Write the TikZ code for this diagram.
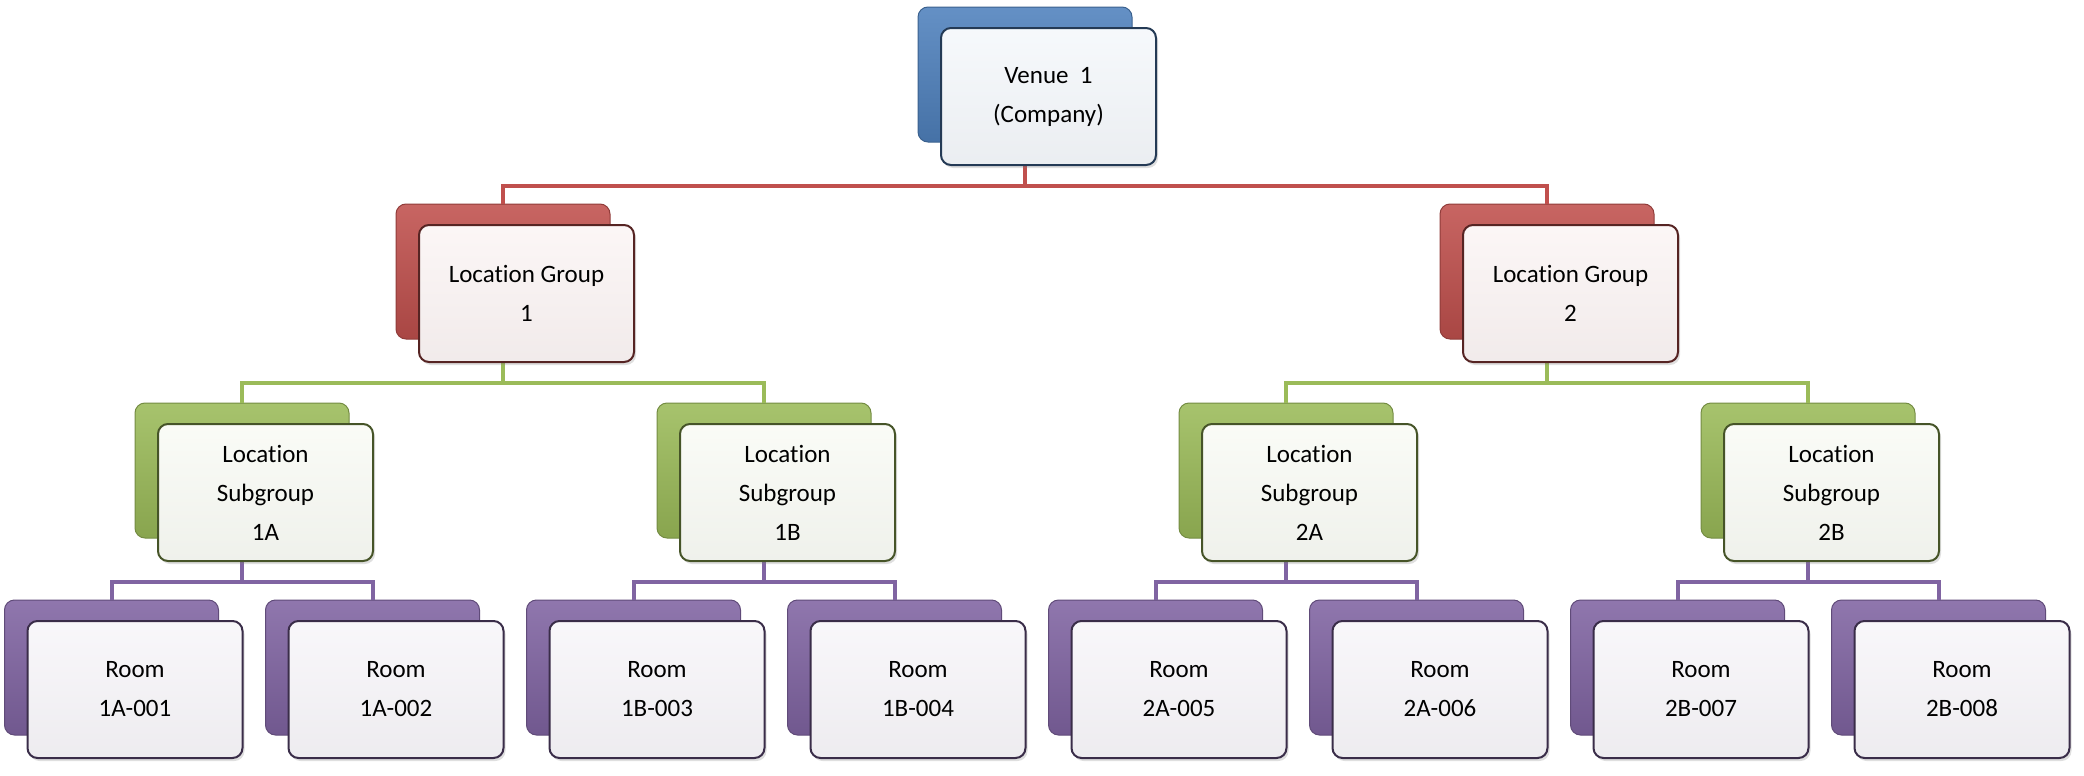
\documentclass[tikz,border=0pt]{standalone}
\usepackage{fontspec}
\setmainfont{Carlito}[Ligatures=NoCommon]
\usetikzlibrary{shadows}

\definecolor{venueblue}{HTML}{4F81BD}
\definecolor{groupred}{HTML}{C0504D}
\definecolor{subgreen}{HTML}{9BBB59}
\definecolor{roompurple}{HTML}{8064A2}

\tikzset{
  back/.style={rectangle, rounded corners=5pt, inner sep=0pt,
    minimum width=107pt, minimum height=67.5pt,
    draw=#1!75!black, line width=0.5pt,
    top color=#1!88!white, middle color=#1, bottom color=#1!88!black},
  front/.style={rectangle, rounded corners=5pt, inner sep=0pt,
    minimum width=107.5pt, minimum height=68.5pt,
    draw=#1!45!black, line width=1pt, align=center,
    top color=#1!5!white, bottom color=#1!6!white!96!black,
    drop shadow={shadow xshift=1pt, shadow yshift=-1.5pt, opacity=0.25},
    font=\fontsize{12.5}{19.5}\selectfont},
  link/.style={draw=#1, line width=2pt}
}

\begin{document}
\begin{tikzpicture}[x=0.5pt, y=-0.5pt]
\useasboundingbox (0,0) rectangle (2084,776);

% back plates
\node[back=venueblue] (venueb) at (1025,74.5) {};
\node[back=groupred] (grp1b) at (503,271.5) {};
\node[back=groupred] (grp2b) at (1547,271.5) {};
\node[back=subgreen] (sub1Ab) at (242,470.5) {};
\node[back=subgreen] (sub1Bb) at (764,470.5) {};
\node[back=subgreen] (sub2Ab) at (1286,470.5) {};
\node[back=subgreen] (sub2Bb) at (1808,470.5) {};
\node[back=roompurple] (room1b) at (111.5,667.5) {};
\node[back=roompurple] (room2b) at (372.5,667.5) {};
\node[back=roompurple] (room3b) at (633.5,667.5) {};
\node[back=roompurple] (room4b) at (894.5,667.5) {};
\node[back=roompurple] (room5b) at (1155.5,667.5) {};
\node[back=roompurple] (room6b) at (1416.5,667.5) {};
\node[back=roompurple] (room7b) at (1677.5,667.5) {};
\node[back=roompurple] (room8b) at (1938.5,667.5) {};

% connectors
\draw[link=groupred] (venueb.south) -- ++(0,-21.5pt) -| (grp1b.north);
\draw[link=groupred] (venueb.south) -- ++(0,-21.5pt) -| (grp2b.north);
\draw[link=subgreen] (grp1b.south) -- ++(0,-21.5pt) -| (sub1Ab.north);
\draw[link=subgreen] (grp1b.south) -- ++(0,-21.5pt) -| (sub1Bb.north);
\draw[link=subgreen] (grp2b.south) -- ++(0,-21.5pt) -| (sub2Ab.north);
\draw[link=subgreen] (grp2b.south) -- ++(0,-21.5pt) -| (sub2Bb.north);
\draw[link=roompurple] (sub1Ab.south) -- ++(0,-21.5pt) -| (room1b.north);
\draw[link=roompurple] (sub1Ab.south) -- ++(0,-21.5pt) -| (room2b.north);
\draw[link=roompurple] (sub1Bb.south) -- ++(0,-21.5pt) -| (room3b.north);
\draw[link=roompurple] (sub1Bb.south) -- ++(0,-21.5pt) -| (room4b.north);
\draw[link=roompurple] (sub2Ab.south) -- ++(0,-21.5pt) -| (room5b.north);
\draw[link=roompurple] (sub2Ab.south) -- ++(0,-21.5pt) -| (room6b.north);
\draw[link=roompurple] (sub2Bb.south) -- ++(0,-21.5pt) -| (room7b.north);
\draw[link=roompurple] (sub2Bb.south) -- ++(0,-21.5pt) -| (room8b.north);

% front cards
\node[front=venueblue] (venue) at ([shift={(11.75pt,-11pt)}]venueb) {Venue\ \ 1\\(Company)};
\node[front=groupred] (grp1) at ([shift={(11.75pt,-11pt)}]grp1b) {Location Group\\1};
\node[front=groupred] (grp2) at ([shift={(11.75pt,-11pt)}]grp2b) {Location Group\\2};
\node[front=subgreen] (sub1A) at ([shift={(11.75pt,-11pt)}]sub1Ab) {Location\\Subgroup\\1A};
\node[front=subgreen] (sub1B) at ([shift={(11.75pt,-11pt)}]sub1Bb) {Location\\Subgroup\\1B};
\node[front=subgreen] (sub2A) at ([shift={(11.75pt,-11pt)}]sub2Ab) {Location\\Subgroup\\2A};
\node[front=subgreen] (sub2B) at ([shift={(11.75pt,-11pt)}]sub2Bb) {Location\\Subgroup\\2B};
\node[front=roompurple] (room1) at ([shift={(11.75pt,-11pt)}]room1b) {Room\\1A-001};
\node[front=roompurple] (room2) at ([shift={(11.75pt,-11pt)}]room2b) {Room\\1A-002};
\node[front=roompurple] (room3) at ([shift={(11.75pt,-11pt)}]room3b) {Room\\1B-003};
\node[front=roompurple] (room4) at ([shift={(11.75pt,-11pt)}]room4b) {Room\\1B-004};
\node[front=roompurple] (room5) at ([shift={(11.75pt,-11pt)}]room5b) {Room\\2A-005};
\node[front=roompurple] (room6) at ([shift={(11.75pt,-11pt)}]room6b) {Room\\2A-006};
\node[front=roompurple] (room7) at ([shift={(11.75pt,-11pt)}]room7b) {Room\\2B-007};
\node[front=roompurple] (room8) at ([shift={(11.75pt,-11pt)}]room8b) {Room\\2B-008};
\end{tikzpicture}
\end{document}
